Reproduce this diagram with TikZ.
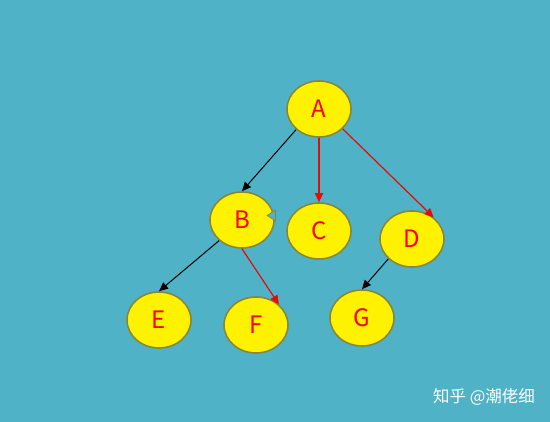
\documentclass[tikz,border=0pt]{standalone}
\usepackage{fontspec}
\setmainfont{Noto Sans CJK SC}
\usepackage{xcolor}
\usetikzlibrary{shapes,arrows.meta,positioning,calc}

\definecolor{bgteal}{RGB}{79,178,199}
\definecolor{nodeedge}{RGB}{135,135,60}
\definecolor{edgered}{RGB}{230,10,10}

\tikzset{
    treenode/.style={ellipse, draw=nodeedge, line width=1.6pt, fill=yellow,
        minimum width=64pt, minimum height=56pt, inner sep=0pt,
        text=red, font=\fontsize{24}{24}\selectfont},
    blackarrow/.style={-{Triangle[length=9pt,width=8pt]}, line width=1pt, black},
    redarrow/.style={-{Triangle[length=9pt,width=8pt]}, line width=1.2pt, edgered}
}

\begin{document}
\begin{tikzpicture}[x=1pt, y=-1pt]
    % 背景
    \fill[bgteal] (0,0) rectangle (550,422);
    \useasboundingbox (0,0) rectangle (550,422);

    % 结点
    \node[treenode] (nodeA) at (319,109) {A};
    \node[treenode] (nodeB) at (242,220) {B};
    \node[treenode] (nodeC) at (319,231) {C};
    \node[treenode] (nodeD) at (412,239) {D};
    \node[treenode] (nodeE) at (159,320) {E};
    \node[treenode] (nodeF) at (256,325) {F};
    \node[treenode] (nodeG) at (362,318) {G};

    % B右侧缺口
    \fill[bgteal, draw=nodeedge, line width=0.6pt] (275.5,210) -- (267,215.5) -- (275.5,221) -- cycle;

    % 连线
    \draw[blackarrow] (nodeA.-138) -- (nodeB.north);
    \draw[redarrow, line width=1.8pt] (nodeA.south) -- (nodeC.north);
    \draw[redarrow] (nodeA.-40) -- (nodeD.45);
    \draw[blackarrow] (nodeB.-138) -- (nodeE.north);
    \draw[redarrow] (nodeB.south) -- (nodeF.42);
    \draw[blackarrow] (nodeD.-140) -- (nodeG.north);

    % 水印
    \node[text=white, font=\fontsize{16.5}{16.5}\selectfont] (mark) at (484,397) {知乎 @潮佬细};
\end{tikzpicture}
\end{document}
